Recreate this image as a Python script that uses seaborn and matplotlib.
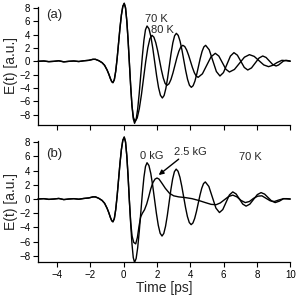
import numpy as np
import seaborn as sns
import matplotlib
matplotlib.use("Agg")
import matplotlib.pyplot as plt

# shared early part of the transient (both panels), up to the main peak
t_pre = [-5.15, -4.8, -4.5, -4.2, -3.9, -3.6, -3.3, -3.0, -2.7, -2.4, -2.1, -1.85, -1.7,
         -1.5, -1.3, -1.15, -1.0, -0.9, -0.8, -0.72, -0.65, -0.565, -0.48, -0.395, -0.31,
         -0.225, -0.14, -0.055, 0.03, 0.1075, 0.185, 0.2625, 0.34]
e_pre = [0.0, 0.05, -0.05, 0.0, 0.08, -0.08, 0.0, 0.05, -0.03, 0.08, 0.15, 0.3, 0.3,
         0.1, -0.2, -0.6, -1.3, -1.9, -2.6, -3.05, -3.2, -2.75, -1.46, 0.47, 2.75,
         5.03, 6.96, 8.25, 8.7, 8.02, 6.06, 3.15, -0.3]

# (a) 70 K and 80 K
t_70K = [0.4175, 0.495, 0.5725, 0.65, 0.744, 0.8375, 0.931, 1.025, 1.119, 1.2125, 1.306, 1.40,
         1.515, 1.63, 1.745, 1.86, 1.975, 2.09, 2.205, 2.32,
         2.425, 2.53, 2.635, 2.74, 2.845, 2.95, 3.055, 3.16,
         3.2725, 3.385, 3.4975, 3.61, 3.7225, 3.835, 3.9475, 4.06,
         4.1675, 4.275, 4.3825, 4.49, 4.5975, 4.705, 4.8125, 4.92,
         5.135, 5.35, 5.565, 5.78, 5.99, 6.20, 6.41, 6.62,
         6.8275, 7.035, 7.2425, 7.45, 7.675, 7.9, 8.125, 8.35,
         8.55, 8.75, 8.95, 9.15, 9.3, 9.45, 9.6, 9.75, 10.0]
e_70K = [-3.75, -6.66, -8.62, -9.3, -8.74, -7.16, -4.79, -2.0, 0.79, 3.16, 4.74, 5.3,
         4.89, 3.72, 1.97, -0.1, -2.17, -3.92, -5.09, -5.5,
         -5.13, -4.08, -2.51, -0.65, 1.21, 2.78, 3.83, 4.2,
         3.89, 3.01, 1.70, 0.15, -1.40, -2.71, -3.59, -3.9,
         -3.66, -2.98, -1.96, -0.75, 0.46, 1.48, 2.16, 2.4,
         1.73, 0.1, -1.53, -2.2, -1.69, -0.45, 0.79, 1.3,
         0.92, 0.0, -0.92, -1.3, -0.99, -0.25, 0.49, 0.8,
         0.58, 0.05, -0.48, -0.7, -0.55, -0.25, 0.05, 0.15, 0.05]

t_80K = [0.4175, 0.495, 0.58, 0.68, 0.8075, 0.935, 1.0625, 1.19, 1.3175, 1.445, 1.5725, 1.70,
         1.8125, 1.925, 2.0375, 2.15, 2.2625, 2.375, 2.4875, 2.60,
         2.719, 2.8375, 2.956, 3.075, 3.194, 3.3125, 3.431, 3.55,
         3.665, 3.78, 3.895, 4.01, 4.125, 4.24, 4.355, 4.47,
         4.7275, 4.985, 5.2425, 5.5, 5.7125, 5.925, 6.1375, 6.35,
         6.65, 6.95, 7.25, 7.55, 7.8375, 8.125, 8.4125, 8.7,
         8.95, 9.2, 9.5, 9.75, 10.0]
e_80K = [-3.75, -6.66, -8.4, -9.0, -8.51, -7.11, -5.02, -2.55, -0.08, 2.01, 3.41, 3.9,
         3.62, 2.80, 1.59, 0.15, -1.29, -2.50, -3.32, -3.6,
         -3.37, -2.72, -1.75, -0.6, 0.55, 1.52, 2.17, 2.4,
         2.22, 1.70, 0.92, 0.0, -0.92, -1.70, -2.22, -2.4,
         -1.87, -0.6, 0.67, 1.2, 0.79, -0.2, -1.19, -1.6,
         -1.22, -0.3, 0.62, 1.0, 0.74, 0.1, -0.54, -0.8,
         -0.6, -0.2, 0.15, 0.1, 0.0]

# (b) 0 kG and 2.5 kG at 70 K
t_0kG = [0.4175, 0.495, 0.5725, 0.65, 0.744, 0.8375, 0.931, 1.025, 1.119, 1.2125, 1.306, 1.40,
         1.5125, 1.625, 1.7375, 1.85, 1.9625, 2.075, 2.1875, 2.30,
         2.406, 2.5125, 2.619, 2.725, 2.831, 2.9375, 3.044, 3.15,
         3.2625, 3.375, 3.4875, 3.6, 3.7125, 3.825, 3.9375, 4.05,
         4.156, 4.2625, 4.369, 4.475, 4.581, 4.6875, 4.794, 4.9,
         5.1125, 5.325, 5.5375, 5.75, 5.95, 6.15, 6.35, 6.55,
         6.75, 6.95, 7.15, 7.35, 7.575, 7.8, 8.025, 8.25,
         8.4625, 8.675, 8.8875, 9.1, 9.35, 9.6, 9.8, 10.0]
e_0kG = [-3.47, -6.32, -8.23, -8.9, -8.37, -6.85, -4.58, -1.9, 0.78, 3.05, 4.57, 5.1,
         4.71, 3.59, 1.92, -0.05, -2.02, -3.69, -4.81, -5.2,
         -4.84, -3.82, -2.30, -0.5, 1.30, 2.82, 3.84, 4.2,
         3.90, 3.06, 1.79, 0.3, -1.19, -2.46, -3.30, -3.6,
         -3.37, -2.72, -1.75, -0.6, 0.55, 1.52, 2.17, 2.4,
         1.77, 0.25, -1.27, -1.9, -1.48, -0.45, 0.58, 1.0,
         0.71, 0.0, -0.71, -1.0, -0.72, -0.05, 0.62, 0.9,
         0.69, 0.2, -0.29, -0.5, -0.3, 0.05, 0.05, 0.0]

t_25kG = [0.42, 0.5, 0.6, 0.72, 0.82, 0.92, 1.02, 1.12, 1.25, 1.38, 1.5, 1.62, 1.75, 1.88,
          2.0, 2.12, 2.3, 2.5, 2.75, 3.0, 3.3, 3.7, 4.1, 4.5, 4.9, 5.25, 5.55, 5.8, 6.05,
          6.3, 6.55, 6.8, 7.05, 7.3, 7.55, 7.8, 8.05, 8.3, 8.55, 8.8, 9.05, 9.3, 9.6, 10.0]
e_25kG = [-3.3, -5.2, -6.1, -6.3, -5.4, -3.8, -2.5, -2.0, -1.5, -0.7, 0.3, 1.4, 2.3, 2.8,
          2.95, 2.8, 2.2, 1.5, 0.8, 0.45, 0.3, 0.2, 0.05, -0.2, -0.5, -0.75, -0.8, -0.55, -0.1,
          0.35, 0.55, 0.3, -0.2, -0.5, -0.35, 0.1, 0.4, 0.45, 0.1, -0.25, -0.35, -0.15, 0.05, 0.0]

sns.set_style("ticks")
plt.rcParams['font.family'] = ['Liberation Sans', 'DejaVu Sans']

fig = plt.figure(figsize=(2.96, 2.99), dpi=100)
ax1 = fig.add_axes([0.1284, 0.582, 0.852, 0.3946])
ax2 = fig.add_axes([0.1284, 0.1237, 0.852, 0.4047])

def draw(ax, t, e):
    sns.lineplot(x=t_pre + t, y=e_pre + e, ax=ax, color='k', lw=1.0,
                 estimator=None, sort=False, clip_on=False)

draw(ax1, t_70K, e_70K)
draw(ax1, t_80K, e_80K)
draw(ax2, t_0kG, e_0kG)
draw(ax2, t_25kG, e_25kG)

for ax in (ax1, ax2):
    ax.set_xlim(-5.15, 10)
    ax.set_xticks([-4, -2, 0, 2, 4, 6, 8, 10])
    ax.set_yticks(range(-8, 9, 2))
    ax.tick_params(direction='out', length=3.5, width=0.8, labelsize=7, pad=2, colors='k')
    for s in ('left', 'bottom'):
        ax.spines[s].set_linewidth(0.9)
        ax.spines[s].set_color('k')
    sns.despine(ax=ax)
    ax.set_ylabel('E(t) [a.u.]', fontsize=10, labelpad=1)

ax1.set_ylim(-9.55, 8.15)
ax2.set_ylim(-8.85, 8.15)
ax1.set_xticklabels([])
ax2.set_xlabel('Time [ps]', fontsize=10, labelpad=1)

ax1.text(-4.2, 6.95, '(a)', fontsize=9.5, ha='center', va='center')
ax1.text(1.95, 6.35, '70 K', fontsize=8, ha='center', va='center')
ax1.text(2.31, 4.7, '80 K', fontsize=8, ha='center', va='center')

ax2.text(-4.2, 6.3, '(b)', fontsize=9.5, ha='center', va='center')
ax2.text(1.71, 6.1, '0 kG', fontsize=8, ha='center', va='center')
ax2.text(4.02, 6.67, '2.5 kG', fontsize=8, ha='center', va='center')
ax2.text(7.63, 5.96, '70 K', fontsize=8, ha='center', va='center')
ax2.annotate('', xy=(2.1, 3.37), xytext=(3.3, 5.6),
             arrowprops=dict(arrowstyle='-|>', color='k', lw=1.0,
                             mutation_scale=7, shrinkA=0, shrinkB=0))

fig.savefig('out.png', dpi=100)
